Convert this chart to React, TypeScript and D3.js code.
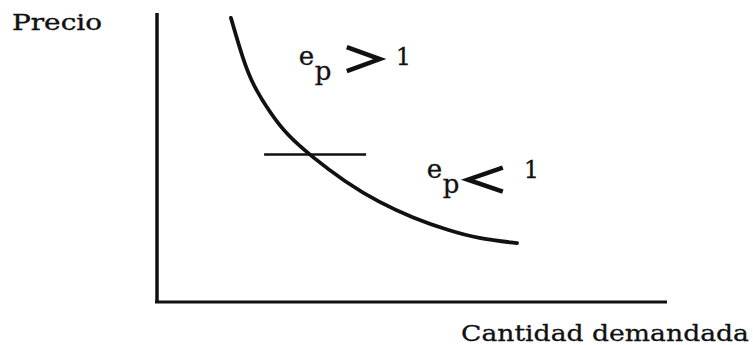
import React from 'react';
import * as d3 from 'd3';

// demand curve (quantity / price on a 0-100 scale)
const quantity = [14.5, 16.9, 18.8, 22.2, 25.5, 30.2, 36.9, 43.7, 50.2, 56.9, 63.3, 70.6];
const price = [98.3, 83.7, 75.1, 65.4, 57.8, 50.5, 41.5, 34.3, 29.1, 24.9, 21.8, 20.4];

// short horizontal marker where e_p = 1
const markerPrice = 51;
const markerQty = [21, 41];

const yTitle = 'Precio';
const xTitle = 'Cantidad demandada';

// elasticity annotations (anchor in data units)
const elasticSigns = ['>', '<'];
const elasticQty = [28, 53.1];
const elasticPrice = [82, 43];

const W = 753;
const H = 345;
const font = '"DejaVu Serif", "Liberation Serif", serif';
const ink = '#111';

export default function App() {
  const x = d3.scaleLinear().domain([0, 100]).range([157, 667]);
  const y = d3.scaleLinear().domain([0, 100]).range([302, 13]);

  const pts: [number, number][] = quantity.map((q, i) => [q, price[i]]);
  const demand = d3.line<[number, number]>()
    .x(d => x(d[0]))
    .y(d => y(d[1]))
    .curve(d3.curveBasis);

  const chevron = d3.line<[number, number]>().curve(d3.curveLinear);

  return (
    <svg width={W} height={H} style={{ position: 'absolute', left: 0, top: 0, background: '#fff' }}>
      {/* axes */}
      <line x1={x(0)} x2={x(0)} y1={y(0) + 1} y2={y(100)} stroke={ink} strokeWidth={3.5} />
      <line x1={x(0) - 2} x2={x(100)} y1={y(0)} y2={y(0)} stroke={ink} strokeWidth={3} />

      {/* demand curve */}
      <path d={demand(pts) || ''} fill="none" stroke={ink} strokeWidth={3.8} strokeLinecap="round" />

      {/* unit elasticity marker */}
      <line x1={x(markerQty[0])} x2={x(markerQty[1])} y1={y(markerPrice)} y2={y(markerPrice)}
        stroke={ink} strokeWidth={2.5} />

      {/* axis titles */}
      <text x={12} y={30} fontFamily={font} fontSize={23} fill={ink} stroke={ink} strokeWidth={0.4}
        textLength={90} lengthAdjust="spacingAndGlyphs">{yTitle}</text>
      <text x={461} y={341} fontFamily={font} fontSize={23} fill={ink} stroke={ink} strokeWidth={0.3}
        textLength={288} lengthAdjust="spacingAndGlyphs">{xTitle}</text>

      {/* e_p labels */}
      {elasticSigns.map((s, i) => {
        const bx = x(elasticQty[i]);
        const by = y(elasticPrice[i]);
        const sx = s === '>' ? bx + 47 : bx + 40;
        const sy = s === '>' ? by - 6 : by + 2;
        const chev: [number, number][] = s === '>'
          ? [[sx, sy - 12], [sx + 33, sy], [sx, sy + 12]]
          : [[sx + 35, sy - 12], [sx, sy], [sx + 35, sy + 12]];
        return (
          <g key={i} fill={ink} fontFamily={font} stroke={ink} strokeWidth={0.3}>
            <text x={bx - 1} y={by} fontSize={26}>e</text>
            <text x={bx + 15} y={by + 15} fontSize={26}>p</text>
            <path d={chevron(chev) || ''} fill="none" stroke={ink} strokeWidth={4.5} strokeLinejoin="miter" />
            <text x={bx + 96} y={by} fontSize={24}>1</text>
          </g>
        );
      })}
    </svg>
  );
}
